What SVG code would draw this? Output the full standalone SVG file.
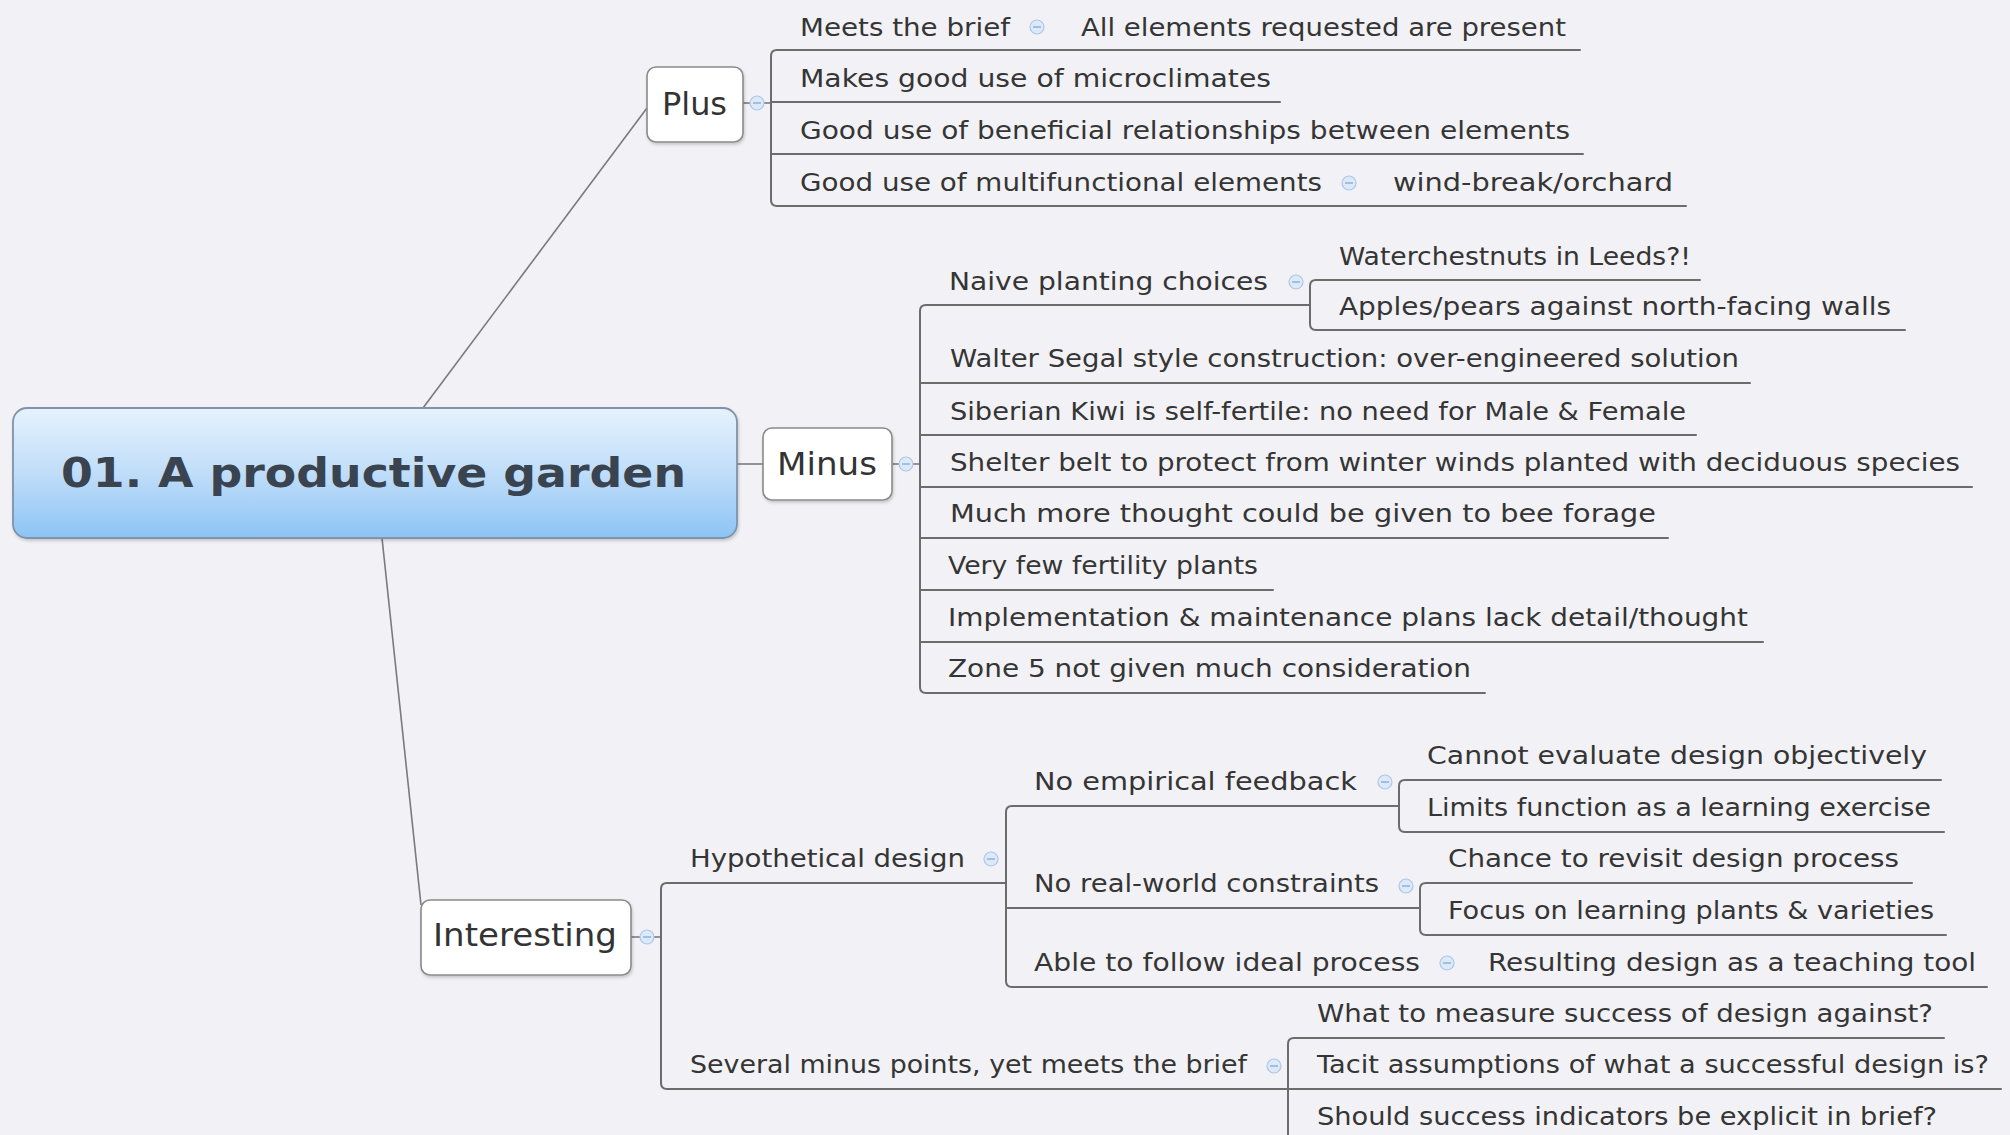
<svg xmlns="http://www.w3.org/2000/svg" width="2010" height="1135" viewBox="0 0 2010 1135">
<defs>
<linearGradient id="cg" x1="0" y1="0" x2="0" y2="1">
<stop offset="0" stop-color="#e6f2fd"/>
<stop offset="0.5" stop-color="#c0ddf9"/>
<stop offset="1" stop-color="#8cc4f5"/>
</linearGradient>
<filter id="sh" x="-10%" y="-10%" width="130%" height="140%">
<feDropShadow dx="1" dy="2" stdDeviation="1.5" flood-color="#000" flood-opacity="0.18"/>
</filter>
<g id="col">
<circle r="7" fill="#dce9f8" stroke="#adc6e8" stroke-width="1.2"/>
<line x1="-4" y1="0" x2="4" y2="0" stroke="#8fb0dc" stroke-width="1.5"/>
</g>
</defs>
<style>
.t { font-family: "DejaVu Sans", "Liberation Sans", sans-serif; font-size: 25px; fill: #353535; }
.n { font-size: 32px; fill: #333; }
.c { font-family: "DejaVu Sans", "Liberation Sans", sans-serif; font-weight: bold; font-size: 40px; fill: #3a4350; }
.ln { stroke: #6c6c6c; stroke-width: 2; fill: none; stroke-linecap: round; }
.tl { stroke: #7a7a7a; stroke-width: 1.6; fill: none; }
.box { fill: #ffffff; stroke: #8a8a8a; stroke-width: 1.6; }
</style>
<rect width="2010" height="1135" fill="#f2f2f6"/>

<g id="connectors">
<line class="tl" x1="423" y1="408" x2="647" y2="108"/>
<line class="tl" x1="737" y1="464" x2="763" y2="464"/>
<line class="tl" x1="382" y1="538" x2="421" y2="905"/>
<line class="tl" x1="743" y1="103" x2="771" y2="103"/>
<line class="tl" x1="893" y1="464" x2="920" y2="464"/>
<line class="tl" x1="631" y1="937" x2="661" y2="937"/>

<path class="ln" d="M777 50 Q771 50 771 56 V200 Q771 206 777 206"/>
<path class="ln" d="M926 305 Q920 305 920 311 V687 Q920 693 926 693"/>
<path class="ln" d="M1316 280 Q1310 280 1310 286 V324 Q1310 330 1316 330"/>
<path class="ln" d="M667 883 Q661 883 661 889 V1083 Q661 1089 667 1089"/>
<path class="ln" d="M1012 806 Q1006 806 1006 812 V981 Q1006 987 1012 987"/>
<path class="ln" d="M1405 780 Q1399 780 1399 786 V826 Q1399 832 1405 832"/>
<path class="ln" d="M1426 883 Q1420 883 1420 889 V929 Q1420 935 1426 935"/>
<path class="ln" d="M1294 1038 Q1288 1038 1288 1044 V1135"/>

<line class="ln" x1="777" y1="50" x2="1580" y2="50"/>
<line class="ln" x1="771" y1="102" x2="1280" y2="102"/>
<line class="ln" x1="771" y1="154" x2="1583" y2="154"/>
<line class="ln" x1="777" y1="206" x2="1686" y2="206"/>

<line class="ln" x1="926" y1="305" x2="1310" y2="305"/>
<line class="ln" x1="920" y1="383" x2="1750" y2="383"/>
<line class="ln" x1="920" y1="435" x2="1696" y2="435"/>
<line class="ln" x1="920" y1="487" x2="1972" y2="487"/>
<line class="ln" x1="920" y1="538" x2="1668" y2="538"/>
<line class="ln" x1="920" y1="590" x2="1273" y2="590"/>
<line class="ln" x1="920" y1="642" x2="1763" y2="642"/>
<line class="ln" x1="926" y1="693" x2="1485" y2="693"/>
<line class="ln" x1="1316" y1="280" x2="1700" y2="280"/>
<line class="ln" x1="1316" y1="330" x2="1905" y2="330"/>

<line class="ln" x1="667" y1="883" x2="1006" y2="883"/>
<line class="ln" x1="667" y1="1089" x2="1288" y2="1089"/>
<line class="ln" x1="1012" y1="806" x2="1399" y2="806"/>
<line class="ln" x1="1006" y1="908" x2="1420" y2="908"/>
<line class="ln" x1="1012" y1="987" x2="1987" y2="987"/>
<line class="ln" x1="1405" y1="780" x2="1941" y2="780"/>
<line class="ln" x1="1405" y1="832" x2="1944" y2="832"/>
<line class="ln" x1="1426" y1="883" x2="1912" y2="883"/>
<line class="ln" x1="1426" y1="935" x2="1946" y2="935"/>
<line class="ln" x1="1294" y1="1038" x2="1944" y2="1038"/>
<line class="ln" x1="1288" y1="1089" x2="2001" y2="1089"/>
<line class="ln" x1="1288" y1="1141" x2="1940" y2="1141"/>

<use href="#col" x="757" y="103"/>
<use href="#col" x="906" y="464"/>
<use href="#col" x="647" y="937"/>
<use href="#col" x="1037" y="27"/>
<use href="#col" x="1349" y="183"/>
<use href="#col" x="1296" y="282"/>
<use href="#col" x="991" y="859"/>
<use href="#col" x="1385" y="782"/>
<use href="#col" x="1406" y="886"/>
<use href="#col" x="1447" y="963"/>
<use href="#col" x="1274" y="1066"/>
</g>

<g id="central">
<rect x="13" y="408" width="724" height="130" rx="14" fill="url(#cg)" stroke="#7f93aa" stroke-width="1.8" filter="url(#sh)"/>
<text class="c" x="61" y="487" textLength="625" lengthAdjust="spacingAndGlyphs">01. A productive garden</text>
</g>

<g id="plus">
<rect class="box" x="647" y="67" width="96" height="75" rx="9" filter="url(#sh)"/>
<text class="t n" x="662" y="115" textLength="65" lengthAdjust="spacingAndGlyphs">Plus</text>
</g>
<g id="minus">
<rect class="box" x="763" y="428" width="129" height="72" rx="9" filter="url(#sh)"/>
<text class="t n" x="777" y="475" textLength="100" lengthAdjust="spacingAndGlyphs">Minus</text>
</g>
<g id="interesting">
<rect class="box" x="421" y="900" width="210" height="75" rx="9" filter="url(#sh)"/>
<text class="t n" x="433" y="946" textLength="184" lengthAdjust="spacingAndGlyphs">Interesting</text>
</g>

<g id="plus-children">
<text class="t" x="800" y="36" textLength="210" lengthAdjust="spacingAndGlyphs">Meets the brief</text>
<text class="t" x="1081" y="36" textLength="485" lengthAdjust="spacingAndGlyphs">All elements requested are present</text>
<text class="t" x="800" y="87" textLength="471" lengthAdjust="spacingAndGlyphs">Makes good use of microclimates</text>
<text class="t" x="800" y="139" textLength="770" lengthAdjust="spacingAndGlyphs">Good use of beneficial relationships between elements</text>
<text class="t" x="800" y="191" textLength="522" lengthAdjust="spacingAndGlyphs">Good use of multifunctional elements</text>
<text class="t" x="1393" y="191" textLength="280" lengthAdjust="spacingAndGlyphs">wind-break/orchard</text>
</g>

<g id="minus-children">
<text class="t" x="949" y="290" textLength="319" lengthAdjust="spacingAndGlyphs">Naive planting choices</text>
<text class="t" x="1339" y="265" textLength="352" lengthAdjust="spacingAndGlyphs">Waterchestnuts in Leeds?!</text>
<text class="t" x="1339" y="315" textLength="552" lengthAdjust="spacingAndGlyphs">Apples/pears against north-facing walls</text>
<text class="t" x="950" y="367" textLength="789" lengthAdjust="spacingAndGlyphs">Walter Segal style construction: over-engineered solution</text>
<text class="t" x="950" y="420" textLength="736" lengthAdjust="spacingAndGlyphs">Siberian Kiwi is self-fertile: no need for Male &amp; Female</text>
<text class="t" x="950" y="471" textLength="1010" lengthAdjust="spacingAndGlyphs">Shelter belt to protect from winter winds planted with deciduous species</text>
<text class="t" x="950" y="522" textLength="706" lengthAdjust="spacingAndGlyphs">Much more thought could be given to bee forage</text>
<text class="t" x="948" y="574" textLength="310" lengthAdjust="spacingAndGlyphs">Very few fertility plants</text>
<text class="t" x="948" y="626" textLength="800" lengthAdjust="spacingAndGlyphs">Implementation &amp; maintenance plans lack detail/thought</text>
<text class="t" x="948" y="677" textLength="523" lengthAdjust="spacingAndGlyphs">Zone 5 not given much consideration</text>
</g>

<g id="interesting-children">
<text class="t" x="690" y="867" textLength="275" lengthAdjust="spacingAndGlyphs">Hypothetical design</text>
<text class="t" x="1034" y="790" textLength="323" lengthAdjust="spacingAndGlyphs">No empirical feedback</text>
<text class="t" x="1427" y="764" textLength="500" lengthAdjust="spacingAndGlyphs">Cannot evaluate design objectively</text>
<text class="t" x="1427" y="816" textLength="504" lengthAdjust="spacingAndGlyphs">Limits function as a learning exercise</text>
<text class="t" x="1034" y="892" textLength="345" lengthAdjust="spacingAndGlyphs">No real-world constraints</text>
<text class="t" x="1448" y="867" textLength="451" lengthAdjust="spacingAndGlyphs">Chance to revisit design process</text>
<text class="t" x="1448" y="919" textLength="486" lengthAdjust="spacingAndGlyphs">Focus on learning plants &amp; varieties</text>
<text class="t" x="1034" y="971" textLength="386" lengthAdjust="spacingAndGlyphs">Able to follow ideal process</text>
<text class="t" x="1488" y="971" textLength="488" lengthAdjust="spacingAndGlyphs">Resulting design as a teaching tool</text>
<text class="t" x="690" y="1073" textLength="557" lengthAdjust="spacingAndGlyphs">Several minus points, yet meets the brief</text>
<text class="t" x="1317" y="1022" textLength="616" lengthAdjust="spacingAndGlyphs">What to measure success of design against?</text>
<text class="t" x="1317" y="1073" textLength="672" lengthAdjust="spacingAndGlyphs">Tacit assumptions of what a successful design is?</text>
<text class="t" x="1317" y="1125" textLength="620" lengthAdjust="spacingAndGlyphs">Should success indicators be explicit in brief?</text>
</g>
</svg>
